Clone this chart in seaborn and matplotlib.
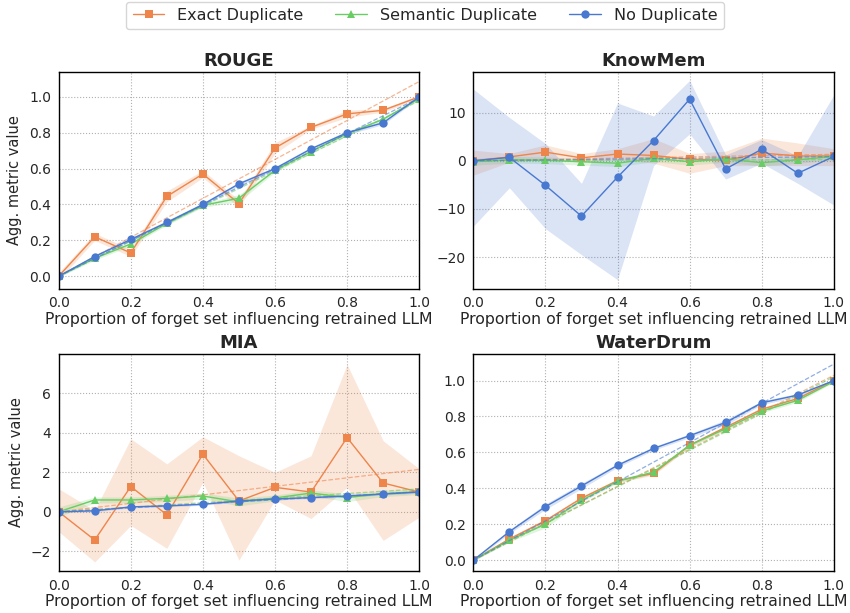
import numpy as np
import seaborn as sns
import matplotlib.pyplot as plt

sns.set_style("whitegrid", {"grid.linestyle": ":", "grid.color": "#b0b0b0",
                            "axes.edgecolor": "black"})

props = [0.0, 0.1, 0.2, 0.3, 0.4, 0.5, 0.6, 0.7, 0.8, 0.9, 1.0]
series_names = ["Exact Duplicate", "Semantic Duplicate", "No Duplicate"]
metric_names = ["ROUGE", "KnowMem", "MIA", "WaterDrum"]

# ROUGE
rouge_exact = [0.0, 0.22, 0.13, 0.445, 0.57, 0.405, 0.715, 0.83, 0.905, 0.925, 1.0]
rouge_exact_err = [0.02, 0.02, 0.02, 0.03, 0.02, 0.02, 0.03, 0.01, 0.02, 0.01, 0.01]
rouge_sem = [0.0, 0.10, 0.18, 0.295, 0.395, 0.435, 0.59, 0.695, 0.795, 0.875, 0.99]
rouge_sem_err = [0.005, 0.01, 0.01, 0.01, 0.01, 0.02, 0.01, 0.01, 0.01, 0.01, 0.005]
rouge_none = [0.0, 0.11, 0.205, 0.30, 0.40, 0.515, 0.60, 0.71, 0.80, 0.855, 1.0]
rouge_none_err = [0.005, 0.01, 0.01, 0.01, 0.01, 0.01, 0.01, 0.01, 0.01, 0.01, 0.005]

# KnowMem
km_exact = [0.0, 0.8, 1.8, 0.6, 1.4, 1.1, 0.3, 0.1, 1.6, 1.0, 1.0]
km_exact_lo = [-3.0, -0.3, 0.3, -0.3, 0.3, -0.5, -2.6, -1.0, -1.0, -1.0, -1.0]
km_exact_hi = [2.2, 1.5, 3.3, 1.5, 2.5, 4.6, 1.5, 2.0, 4.7, 3.7, 2.5]
km_sem = [-0.2, 0.2, 0.1, -0.2, -0.5, 0.5, -0.2, 0.4, -0.4, 0.2, 0.9]
km_sem_lo = [-0.9, -0.5, -0.6, -0.9, -1.2, -0.2, -0.9, -0.3, -1.1, -0.5, 0.2]
km_sem_hi = [0.5, 0.9, 0.8, 0.5, 0.2, 1.2, 0.5, 1.1, 0.3, 0.9, 1.6]
km_none = [0.0, 0.7, -5.1, -11.5, -3.4, 4.2, 12.8, -1.7, 2.4, -2.6, 0.9]
km_none_lo = [-13.6, -5.6, -14.1, -19.5, -24.7, -1.0, 5.6, -3.8, -0.5, -4.7, -9.2]
km_none_hi = [14.9, 9.0, 3.6, -4.7, 12.0, 9.3, 16.7, 1.2, 4.4, 1.0, 13.7]

# MIA
mia_exact = [0.0, -1.43, 1.28, -0.15, 2.92, 0.55, 1.24, 1.0, 3.76, 1.46, 1.0]
mia_exact_lo = [-1.0, -2.54, -0.69, -1.85, 1.5, -2.45, 0.6, -0.34, 1.24, -1.45, -0.27]
mia_exact_hi = [1.17, 0.07, 3.7, 2.43, 3.8, 2.84, 2.0, 2.84, 7.47, 3.6, 2.18]
mia_sem = [0.0, 0.6, 0.6, 0.68, 0.8, 0.5, 0.7, 0.95, 0.72, 0.92, 1.02]
mia_sem_err = [0.25, 0.15, 0.15, 0.15, 0.15, 0.2, 0.15, 0.15, 0.2, 0.15, 0.15]
mia_none = [0.0, 0.05, 0.25, 0.3, 0.38, 0.55, 0.65, 0.72, 0.8, 0.9, 1.0]
mia_none_err = [0.05, 0.05, 0.05, 0.05, 0.05, 0.05, 0.05, 0.05, 0.05, 0.05, 0.05]

# WaterDrum
wd_exact = [0.0, 0.118, 0.22, 0.345, 0.443, 0.483, 0.64, 0.74, 0.84, 0.90, 1.0]
wd_exact_err = [0.005, 0.01, 0.01, 0.01, 0.01, 0.01, 0.01, 0.01, 0.01, 0.01, 0.005]
wd_sem = [0.0, 0.112, 0.20, 0.333, 0.44, 0.49, 0.64, 0.732, 0.83, 0.89, 0.995]
wd_sem_err = [0.005, 0.01, 0.02, 0.01, 0.01, 0.01, 0.01, 0.01, 0.01, 0.01, 0.005]
wd_none = [0.0, 0.159, 0.298, 0.413, 0.528, 0.622, 0.693, 0.767, 0.876, 0.919, 1.0]
wd_none_err = [0.005, 0.01, 0.015, 0.015, 0.01, 0.01, 0.01, 0.015, 0.01, 0.01, 0.005]


def band(y, err):
    y, err = np.array(y), np.array(err)
    return y - err, y + err


panels = {
    "ROUGE": [(rouge_exact, *band(rouge_exact, rouge_exact_err)),
              (rouge_sem, *band(rouge_sem, rouge_sem_err)),
              (rouge_none, *band(rouge_none, rouge_none_err))],
    "KnowMem": [(km_exact, km_exact_lo, km_exact_hi),
                (km_sem, km_sem_lo, km_sem_hi),
                (km_none, km_none_lo, km_none_hi)],
    "MIA": [(mia_exact, mia_exact_lo, mia_exact_hi),
            (mia_sem, *band(mia_sem, mia_sem_err)),
            (mia_none, *band(mia_none, mia_none_err))],
    "WaterDrum": [(wd_exact, *band(wd_exact, wd_exact_err)),
                  (wd_sem, *band(wd_sem, wd_sem_err)),
                  (wd_none, *band(wd_none, wd_none_err))],
}
ylims = {"ROUGE": (-0.07, 1.14), "KnowMem": (-26.6, 18.5),
         "MIA": (-3.0, 8.0), "WaterDrum": (-0.06, 1.148)}

pal = sns.color_palette("muted")
colors = [pal[1], pal[2], pal[0]]
markers = ["s", "^", "o"]

fig, axes = plt.subplots(2, 2, figsize=(8.5, 6.13), dpi=100)
x = np.array(props)
for ax, name in zip(axes.flat, metric_names):
    for (y, lo, hi), c, m, lab in zip(panels[name], colors, markers, series_names):
        ax.fill_between(x, lo, hi, color=c, alpha=0.2, linewidth=0)
        # least-squares line through the origin
        slope = np.sum(x * np.array(y)) / np.sum(x * x)
        ax.plot([0, 1], [0, slope], color=c, linestyle="--", linewidth=0.9, alpha=0.6)
        sns.lineplot(x=x, y=y, color=c, marker=m, markersize=6, markeredgewidth=0,
                     linewidth=1, label=lab, ax=ax, legend=False)
    ax.set_title(name, fontsize=13, fontweight="bold", pad=4)
    ax.set_xlim(0, 1)
    ax.set_ylim(*ylims[name])
    ax.set_xticks([0, 0.2, 0.4, 0.6, 0.8, 1.0])
    ax.tick_params(labelsize=10, pad=2)
    ax.set_xlabel("Proportion of forget set influencing retrained LLM", fontsize=11.3, labelpad=1)
    for s in ax.spines.values():
        s.set_color("black")
        s.set_linewidth(1.0)

axes[1, 0].set_yticks([-2, 0, 2, 4, 6])
axes[0, 1].set_yticks([-20, -10, 0, 10])
for ax in axes[:, 0]:
    ax.set_ylabel("Agg. metric value", fontsize=10.5, labelpad=5)
for ax in axes[:, 1]:
    ax.set_ylabel("")

handles, labels = axes[0, 0].get_legend_handles_labels()
fig.legend(handles, labels, loc="upper center", ncol=3, fontsize=11.5,
           bbox_to_anchor=(0.5, 1.0), borderaxespad=0.1, frameon=True,
           handlelength=2.0, handletextpad=0.8, columnspacing=2.0)

plt.subplots_adjust(left=0.069, right=0.981, top=0.883, bottom=0.0685,
                    wspace=0.15, hspace=0.30)
plt.savefig("out.png", dpi=100)
